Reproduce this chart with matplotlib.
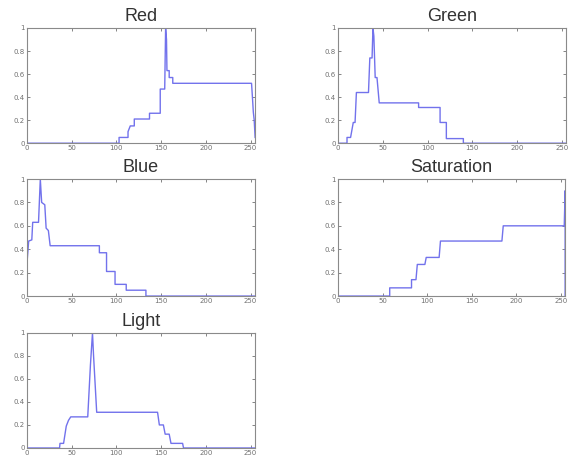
import matplotlib
matplotlib.use("Agg")
import matplotlib.pyplot as plt

# histogram curves (level 0..255, normalised 0..1)
red_x = [0, 103, 103, 113, 113, 115.5, 120, 120, 137, 137, 149, 149, 154, 155, 156, 156.5, 159, 159, 163, 163, 251, 252, 253, 254, 255]
red_y = [0, 0, 0.05, 0.05, 0.1, 0.15, 0.15, 0.21, 0.21, 0.26, 0.26, 0.47, 0.47, 1.0, 0.9, 0.63, 0.63, 0.57, 0.57, 0.52, 0.52, 0.4, 0.27, 0.2, 0.05]

green_x = [0, 10, 10, 14, 17, 19, 20.5, 34, 35.5, 38, 39, 40, 41.5, 43.5, 46, 90, 90, 114, 114, 121, 121, 140, 140, 255]
green_y = [0, 0, 0.05, 0.05, 0.18, 0.18, 0.44, 0.44, 0.74, 0.74, 1.0, 0.93, 0.57, 0.57, 0.35, 0.35, 0.31, 0.31, 0.18, 0.18, 0.04, 0.04, 0, 0]

blue_x = [0, 2, 5.5, 6.5, 13, 15, 16.5, 20, 21.5, 24, 26, 81, 81, 89, 89, 98.5, 98.5, 111, 111, 133, 133, 255]
blue_y = [0.27, 0.47, 0.48, 0.63, 0.63, 1.0, 0.8, 0.78, 0.58, 0.56, 0.43, 0.43, 0.37, 0.37, 0.21, 0.21, 0.1, 0.1, 0.05, 0.05, 0, 0]

sat_x = [0, 58, 58, 82.5, 82.5, 87.5, 89, 97.5, 99, 113.5, 115, 184, 185.5, 254, 255, 255, 255]
sat_y = [0, 0, 0.07, 0.07, 0.14, 0.14, 0.27, 0.27, 0.33, 0.33, 0.47, 0.47, 0.6, 0.6, 0.9, 0.25, 0]

light_x = [0, 36.5, 37, 41, 44, 46.5, 49, 68, 71, 73.3, 74.5, 78, 146, 148, 152.5, 154.5, 159, 161, 174, 175, 255]
light_y = [0, 0, 0.04, 0.04, 0.19, 0.24, 0.27, 0.27, 0.72, 1.0, 0.8, 0.31, 0.31, 0.2, 0.2, 0.12, 0.12, 0.04, 0.04, 0, 0]

titles = ["Red", "Green", "Blue", "Saturation", "Light"]
curves = [(red_x, red_y), (green_x, green_y), (blue_x, blue_y), (sat_x, sat_y), (light_x, light_y)]

# axes boxes in figure fractions
boxes = [
    [0.047, 0.688, 0.399, 0.251],
    [0.591, 0.688, 0.399, 0.251],
    [0.047, 0.355, 0.399, 0.255],
    [0.591, 0.355, 0.397, 0.255],
    [0.047, 0.024, 0.399, 0.251],
]

fig = plt.figure(figsize=(5.72, 4.59), dpi=100)
for (xs, ys), title, box in zip(curves, titles, boxes):
    ax = fig.add_axes(box)
    ax.plot(xs, ys, color="#7272ec", lw=1)
    ax.set_xlim(0, 255)
    ax.set_ylim(0, 1)
    ax.set_xticks([0, 50, 100, 150, 200, 250])
    ax.set_yticks([0, 0.2, 0.4, 0.6, 0.8, 1])
    ax.set_yticklabels(["0", "0.2", "0.4", "0.6", "0.8", "1"])
    ax.tick_params(direction="in", length=2, width=0.6, labelsize=5,
                   colors="#707070", top=True, right=True, pad=1.5)
    for s in ax.spines.values():
        s.set_color("#8a8a8a")
        s.set_linewidth(0.8)
    ax.set_title(title, fontsize=13, color="#333333", pad=5, family="Liberation Sans")

fig.savefig("out.png", dpi=100)
